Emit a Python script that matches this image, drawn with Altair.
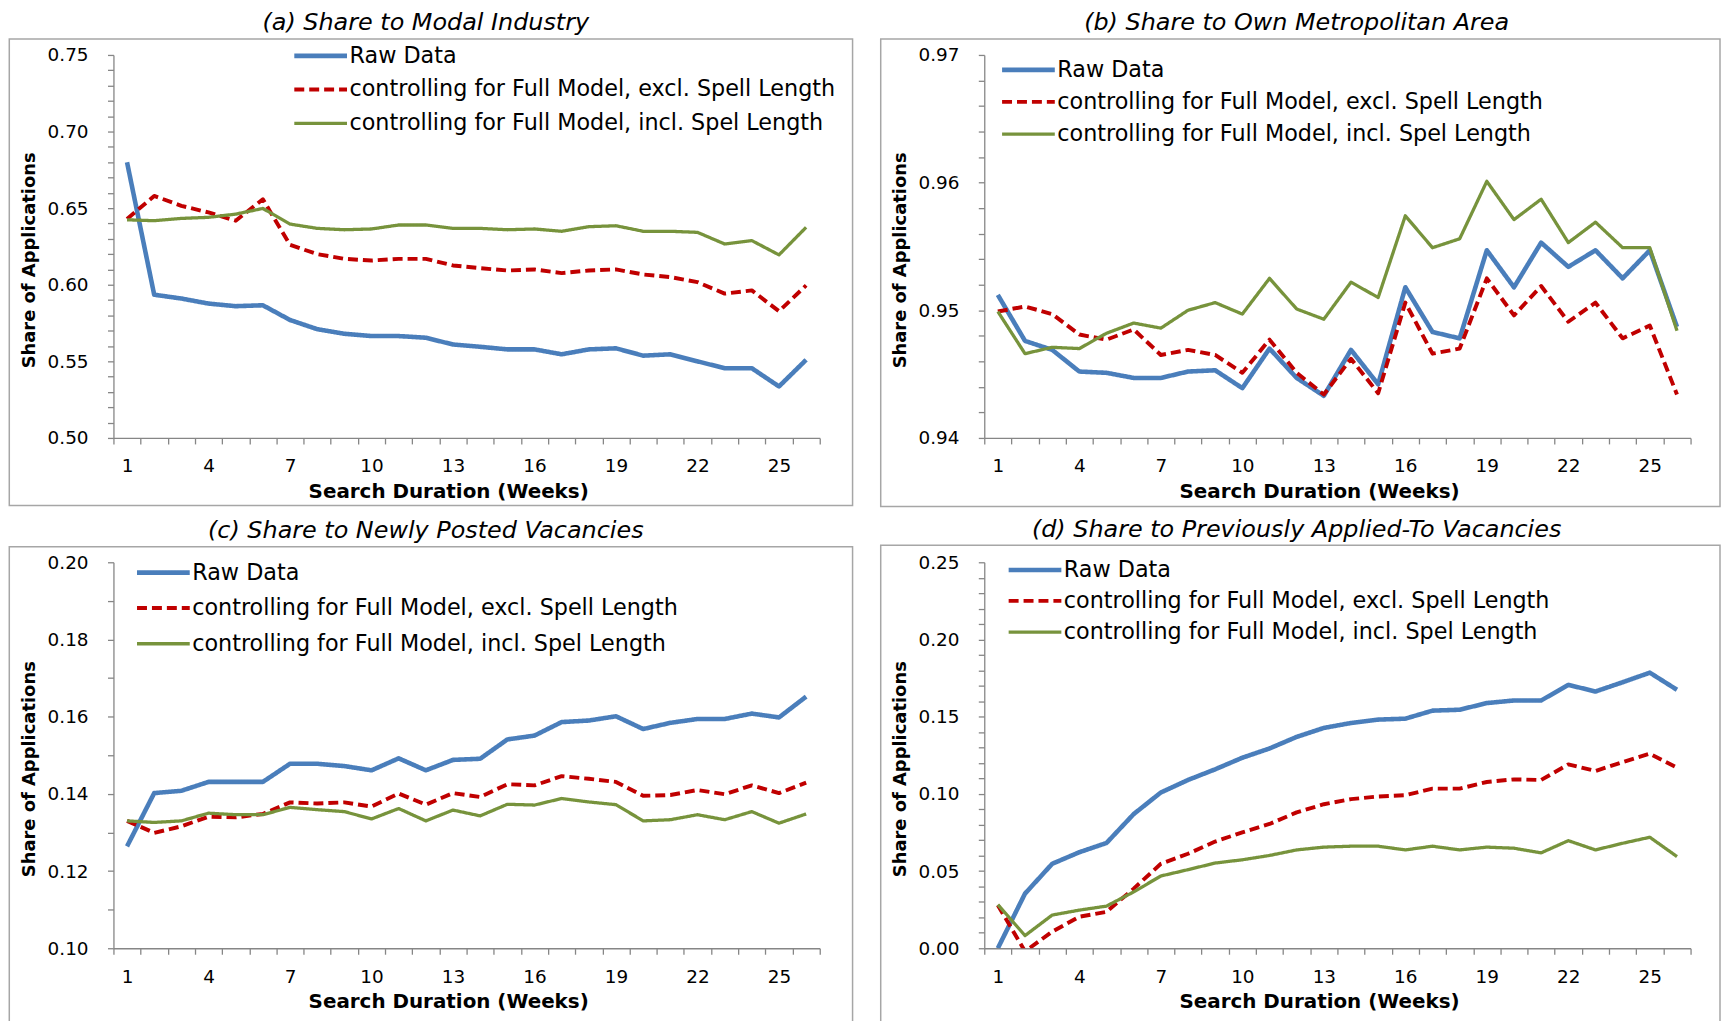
import altair as alt
import numpy as np
import pandas as pd

weeks = list(range(1, 27))
series_names = [
    "Raw Data",
    "controlling for Full Model, excl. Spell Length",
    "controlling for Full Model, incl. Spel Length",
]
series_colors = ["#4A7EBB", "#C00000", "#77933C"]

titles = [
    "(a) Share to Modal Industry",
    "(b) Share to Own Metropolitan Area",
    "(c) Share to Newly Posted Vacancies",
    "(d) Share to Previously Applied-To Vacancies",
]

raw_a = [0.680, 0.5935, 0.591, 0.5877, 0.586, 0.5866, 0.577, 0.571, 0.568, 0.5665, 0.5665, 0.5654, 0.561,
         0.5595, 0.5578, 0.5578, 0.5546, 0.5578, 0.5585, 0.5537, 0.5546, 0.550, 0.5455, 0.5455, 0.5336, 0.551]
excl_a = [0.6429, 0.658, 0.6515, 0.6472, 0.6418, 0.6558, 0.626, 0.620, 0.6169, 0.6158, 0.6169, 0.6169, 0.6126,
          0.6108, 0.6093, 0.610, 0.6076, 0.6093, 0.610, 0.6067, 0.605, 0.6017, 0.5942, 0.5963, 0.5827, 0.5996]
incl_a = [0.6424, 0.6418, 0.6433, 0.644, 0.6461, 0.6498, 0.6396, 0.6368, 0.6359, 0.6364, 0.639, 0.639, 0.6368,
          0.6368, 0.6359, 0.6364, 0.6349, 0.6379, 0.6385, 0.6349, 0.6349, 0.6342, 0.6266, 0.6288, 0.6195, 0.6375]

raw_b = [0.9512, 0.9476, 0.9469, 0.9452, 0.9451, 0.9447, 0.9447, 0.9452, 0.9453, 0.9439, 0.9470, 0.9447, 0.9433,
         0.9469, 0.9442, 0.9518, 0.9483, 0.9478, 0.9547, 0.9518, 0.9553, 0.9534, 0.9547, 0.9525, 0.9547, 0.9487]
excl_b = [0.9499, 0.9503, 0.9497, 0.9481, 0.9477, 0.9485, 0.9465, 0.9469, 0.9465, 0.9451, 0.9477, 0.9451, 0.9434,
          0.9462, 0.9435, 0.9506, 0.9466, 0.9470, 0.9525, 0.9496, 0.9519, 0.9491, 0.9506, 0.9478, 0.9488, 0.9434]
incl_b = [0.9499, 0.9466, 0.9471, 0.9470, 0.9482, 0.9490, 0.9486, 0.9500, 0.9506, 0.9497, 0.9525, 0.9501, 0.9493,
          0.9522, 0.9510, 0.9574, 0.9549, 0.9556, 0.9601, 0.9571, 0.9587, 0.9553, 0.9569, 0.9549, 0.9549, 0.9484]

raw_c = [0.1264, 0.1402, 0.1408, 0.1431, 0.1431, 0.1431, 0.1478, 0.1478, 0.1472, 0.1461, 0.1492, 0.1461, 0.1488,
         0.1491, 0.1541, 0.1551, 0.1586, 0.1590, 0.1601, 0.1568, 0.1584, 0.1594, 0.1594, 0.1608, 0.1598, 0.1652]
excl_c = [0.1330, 0.1299, 0.1316, 0.1341, 0.1339, 0.1348, 0.1378, 0.1375, 0.1378, 0.1367, 0.1401, 0.1372, 0.1402,
          0.1392, 0.1425, 0.1422, 0.1446, 0.1439, 0.1431, 0.1395, 0.1397, 0.1410, 0.1399, 0.1422, 0.1402, 0.1429]
incl_c = [0.1330, 0.1326, 0.1330, 0.1350, 0.1346, 0.1346, 0.1365, 0.1359, 0.1354, 0.1335, 0.1362, 0.1330, 0.1358,
          0.1343, 0.1373, 0.1371, 0.1388, 0.1379, 0.1372, 0.1330, 0.1333, 0.1346, 0.1333, 0.1354, 0.1324, 0.1348]

raw_d = [0.0, 0.0354, 0.0547, 0.0622, 0.0682, 0.0869, 0.1009, 0.1090, 0.1159, 0.1234, 0.1294, 0.1369, 0.1427,
         0.1459, 0.1481, 0.1487, 0.1539, 0.1545, 0.1588, 0.1605, 0.1605, 0.1706, 0.1663, 0.1723, 0.1785, 0.1674]
excl_d = [0.0279, -0.002, 0.0107, 0.0204, 0.0236, 0.0386, 0.0547, 0.0612, 0.0691, 0.0751, 0.0805, 0.0880, 0.0933,
          0.0966, 0.0983, 0.0991, 0.1034, 0.1034, 0.1077, 0.1094, 0.1090, 0.1191, 0.1148, 0.1206, 0.1260, 0.1170]
incl_d = [0.0283, 0.0082, 0.0215, 0.0247, 0.0273, 0.0365, 0.0468, 0.0509, 0.0552, 0.0573, 0.0601, 0.0637, 0.0655,
          0.0661, 0.0661, 0.0637, 0.0661, 0.0637, 0.0655, 0.0648, 0.0618, 0.0697, 0.0637, 0.0680, 0.0719, 0.0594]

FONT = "DejaVu Sans"
AXIS_GRAY = "#868686"
FRAME_GRAY = "#A6A6A6"


def panel(raw, excl, incl, ydom, ystep, major_mod, w, h, title, frame, leg_xy, rowpad):
    df = pd.DataFrame({
        "week": weeks * 3,
        "value": raw + excl + incl,
        "series": [series_names[0]] * 26 + [series_names[1]] * 26 + [series_names[2]] * 26,
    })
    yvals = [round(v, 4) for v in np.arange(ydom[0], ydom[1] + ystep / 2, ystep)]
    xvals = [float(v) for v in np.arange(0.5, 26.6, 0.5)]
    leg = alt.Legend(
        title=None, orient="none", legendX=leg_xy[0], legendY=leg_xy[1], direction="vertical",
        symbolType="M-3,0H3", symbolSize=312, symbolOffset=15.4, labelOffset=17.5,
        labelFont=FONT, labelFontSize=22.4, labelColor="black", labelLimit=900,
        rowPadding=rowpad, padding=0,
    )
    xaxis = alt.Axis(
        values=xvals, title="Search Duration (Weeks)",
        labelExpr="datum.value % 3 == 1 ? format(datum.value, 'd') : ''",
        tickOpacity={"condition": {"test": "datum.value % 1 == 0", "value": 0}, "value": 1},
        tickSize=6, labelPadding=13, labelOverlap=False, labelFlush=False,
        titleX=w / 2 - 18.5, titleY=54, titleBaseline="middle",
        titleFont=FONT, titleFontSize=20, titleFontWeight="bold",
        labelFont=FONT, labelFontSize=18.5, grid=False,
    )
    yaxis = alt.Axis(
        values=yvals, title="Share of Applications",
        labelExpr=f"round(datum.value * 1000) % {major_mod} == 0 ? format(datum.value, '.2f') : ''",
        tickSize=6, labelPadding=19.5, labelOverlap=False, labelFlush=False,
        titleX=-84.5, titleY=h / 2 + 13.5, titleBaseline="middle",
        titleFont=FONT, titleFontSize=18, titleFontWeight="bold",
        labelFont=FONT, labelFontSize=18.5, grid=False,
    )
    lines = alt.Chart(df).mark_line(clip=True, strokeJoin="round").encode(
        x=alt.X("week:Q", scale=alt.Scale(domain=[0.5, 26.5], nice=False, zero=False), axis=xaxis),
        y=alt.Y("value:Q", scale=alt.Scale(domain=ydom, nice=False, zero=False), axis=yaxis),
        color=alt.Color("series:N", scale=alt.Scale(domain=series_names, range=series_colors), legend=leg),
        strokeDash=alt.StrokeDash("series:N", scale=alt.Scale(domain=series_names, range=[[1, 0], [10, 5], [1, 0]]), legend=leg),
        strokeWidth=alt.StrokeWidth("series:N", scale=alt.Scale(domain=series_names, range=[4.6, 3.3, 3.3]), legend=leg),
    )
    box = alt.Chart(pd.DataFrame({"k": [0]})).mark_rect(
        fillOpacity=0, stroke=FRAME_GRAY, strokeWidth=1.5, clip=False
    ).encode(
        x=alt.value(frame[0]), x2=alt.value(frame[1]), y=alt.value(frame[2]), y2=alt.value(frame[3])
    )
    return alt.layer(box, lines).properties(
        width=w, height=h,
        title=alt.TitleParams(text=title, font=FONT, fontSize=24, fontStyle="italic", fontWeight="normal",
                              anchor="middle", frame="group", dx=-41, offset=3, color="black"),
    )


pa = panel(raw_a, excl_a, incl_a, [0.50, 0.75], 0.01, 50, 710, 385, titles[0],
           (-104.7, 743, -16, 453), (181.4, -10.6), 11.1)
pb = panel(raw_b, excl_b, incl_b, [0.94, 0.97], 0.002, 10, 710, 385, titles[1],
           (-104.1, 739.6, -16, 454), (17.5, 3.5), 9.5)
pc = panel(raw_c, excl_c, incl_c, [0.10, 0.20], 0.01, 20, 710, 388, titles[2],
           (-104.7, 743, -15.7, 470), (23.3, -1.1), 12.9)
pd_ = panel(raw_d, excl_d, incl_d, [0.0, 0.25], 0.01, 50, 710, 388, titles[3],
            (-104.1, 739.6, -17, 470), (24.1, -3.8), 8.4)

chart = alt.concat(
    pa, pb, pc, pd_, columns=2, spacing={"row": 125, "column": 165.4}, bounds="flush"
).resolve_scale(
    color="independent", strokeDash="independent", strokeWidth="independent"
).resolve_legend(
    color="independent", strokeDash="independent", strokeWidth="independent"
).properties(
    padding={"top": 0.5, "left": 0, "right": 0, "bottom": 0}
).configure_view(strokeWidth=0).configure_axis(
    domainColor=AXIS_GRAY, tickColor=AXIS_GRAY, domainWidth=1.3, tickWidth=1.3,
    labelColor="black", titleColor="black",
)

chart.save("out.html", embed_options={"renderer": "svg", "actions": False})
